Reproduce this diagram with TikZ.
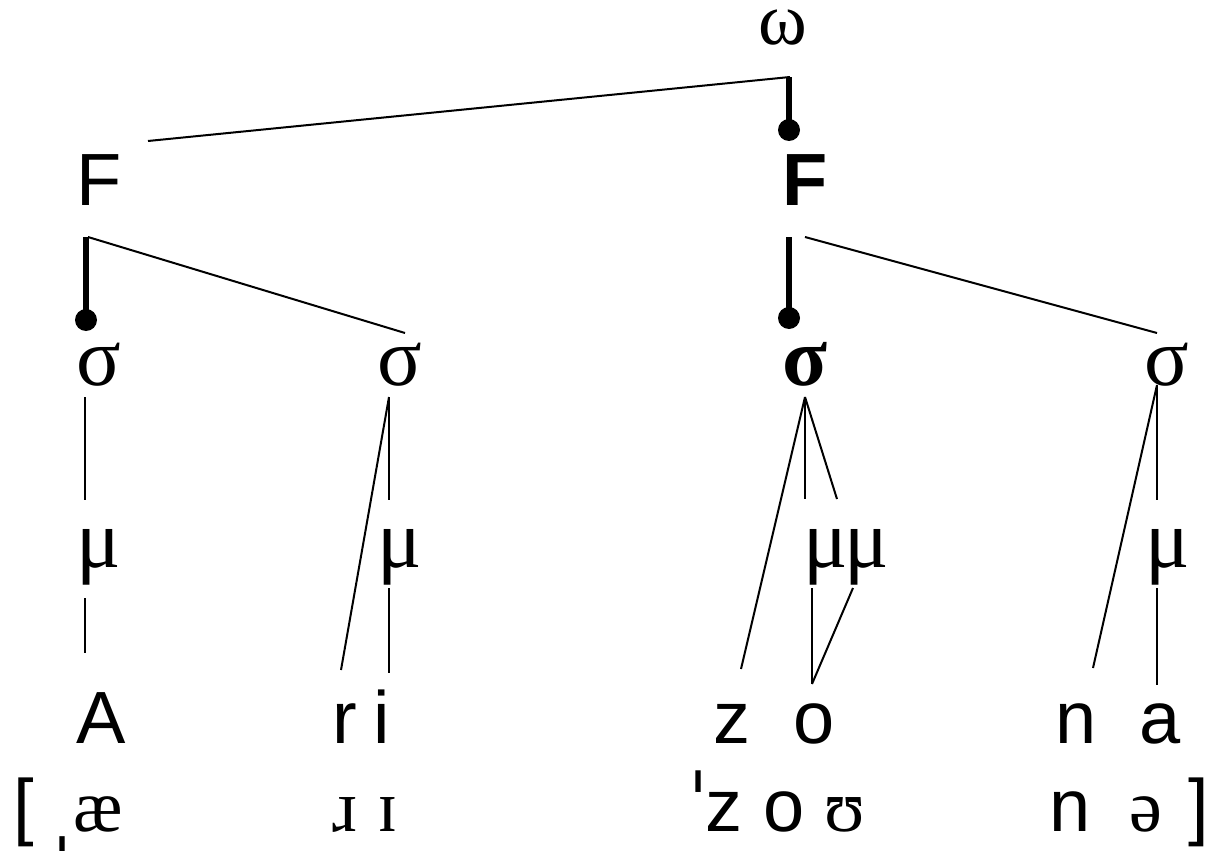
\documentclass[tikz,border=0pt]{standalone}
\usepackage{fontspec}
\setmainfont{Liberation Sans}
\newfontfamily\grk[Scale=1.12]{Liberation Serif}
\newfontfamily\ipa{Liberation Serif}
\newfontfamily\mrk{DejaVu Sans}

\tikzset{
  seg/.style={inner sep=0pt, anchor=base, font=\fontsize{37}{44}\selectfont},
  greek/.style={seg, font=\fontsize{37}{44}\selectfont\grk},
  phon/.style={seg, font=\fontsize{37}{44}\selectfont\ipa},
  stress/.style={seg, font=\fontsize{40}{44}\selectfont\mrk},
  assoc/.style={line width=1pt},
  head/.style={line width=3pt},
}

\begin{document}
\begin{tikzpicture}[x=0.5pt,y=-0.5pt]
        \useasboundingbox (0,0) rectangle (1207,851);

        % Wort und Fuesse
        \node[phon] (w) at (783,44) {ω};
        \node[seg] (F1) at (99,205) {F};
        \node[seg, font=\fontsize{37}{44}\selectfont\bfseries] (F2) at (805,205) {F};

        % Silben
        \node[greek] (s1) at (99,385) {σ};
        \node[greek] (s2) at (400,385) {σ};
        \node[greek, font=\fontsize{37}{44}\selectfont\grk\bfseries] (s3) at (805,385) {σ};
        \node[greek] (s4) at (1167,385) {σ};

        % Moren
        \node[greek] (m1) at (99,567) {μ};
        \node[greek] (m2) at (400,567) {μ};
        \node[greek] (m3) at (826,567) {μ};
        \node[greek] (m4) at (867,567) {μ};
        \node[greek] (m5) at (1168,567) {μ};

        % Segmente
        \node[seg] (A) at (101,743) {A};
        \node[seg] (r) at (345,743) {r};
        \node[seg] (i) at (382,743) {i};
        \node[seg] (z) at (732,743) {z};
        \node[seg] (o) at (814,743) {o};
        \node[seg] (n) at (1076,743) {n};
        \node[seg] (a) at (1160,743) {a};

        % Transkription
        \node[seg] (lb) at (24,831) {[};
        \node[stress] (sec) at (62,846) {ˌ};
        \node[phon] (ae) at (98,831) {æ};
        \node[phon] (rr) at (345,831) {ɹ};
        \node[phon] (ii) at (388,831) {ɪ};
        \node[stress] (pri) at (698,831) {ˈ};
        \node[seg] (zz) at (724,831) {z};
        \node[seg] (oo) at (784,831) {o};
        \node[phon] (uu) at (845,831) {ʊ};
        \node[seg] (nn) at (1070,831) {n};
        \node[phon] (sw) at (1146,831) {ə};
        \node[seg] (rb) at (1199,831) {]};

        % Kopflinien
        \draw[assoc] ([shift={(7,33)}]w.base) -- ([shift={(49,-64)}]F1.base);
        \draw[head] ([shift={(6,33)}]w.base) -- ([shift={(-16,-75)}]F2.base);
        \fill ([shift={(-16,-75)}]F2.base) circle[radius=11];
        \draw[head] ([shift={(-13,32)}]F1.base) -- ([shift={(-13,-65)}]s1.base);
        \fill ([shift={(-13,-65)}]s1.base) circle[radius=11];
        \draw[assoc] ([shift={(-11,32)}]F1.base) -- ([shift={(5,-52)}]s2.base);
        \draw[head] ([shift={(-16,32)}]F2.base) -- ([shift={(-16,-67)}]s3.base);
        \fill ([shift={(-16,-67)}]s3.base) circle[radius=11];
        \draw[assoc] ([shift={(0,32)}]F2.base) -- ([shift={(-10,-52)}]s4.base);

        % Silbe -> Mora -> Segment
        \draw[assoc] ([shift={(-14,12)}]s1.base) -- ([shift={(-14,-67)}]m1.base);
        \draw[assoc] ([shift={(-14,31)}]m1.base) -- ([shift={(-16,-90)}]A.base);
        \draw[assoc] ([shift={(-11,12)}]s2.base) -- ([shift={(-4,-73)}]r.base);
        \draw[assoc] ([shift={(-11,12)}]s2.base) -- ([shift={(-11,-67)}]m2.base);
        \draw[assoc] ([shift={(-11,21)}]m2.base) -- ([shift={(7,-70)}]i.base);
        \draw[assoc] ([shift={(0,12)}]s3.base) -- ([shift={(9,-74)}]z.base);
        \draw[assoc] ([shift={(0,12)}]s3.base) -- ([shift={(-21,-68)}]m3.base);
        \draw[assoc] ([shift={(0,12)}]s3.base) -- ([shift={(-30,-68)}]m4.base);
        \draw[assoc] ([shift={(-14,21)}]m3.base) -- ([shift={(-2,-59)}]o.base);
        \draw[assoc] ([shift={(-14,21)}]m4.base) -- ([shift={(-2,-59)}]o.base);
        \draw[assoc] ([shift={(-10,0)}]s4.base) -- ([shift={(17,-75)}]n.base);
        \draw[assoc] ([shift={(-10,0)}]s4.base) -- ([shift={(-11,-67)}]m5.base);
        \draw[assoc] ([shift={(-11,21)}]m5.base) -- ([shift={(-3,-58)}]a.base);
\end{tikzpicture}
\end{document}
